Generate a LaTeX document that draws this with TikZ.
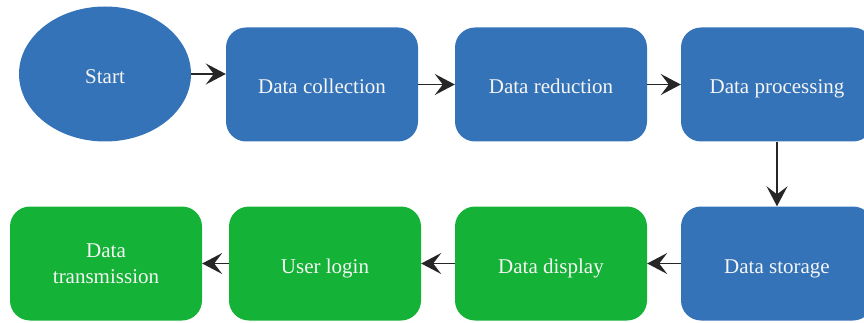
\documentclass[tikz,border=0pt]{standalone}
\usepackage{fontspec}
\setmainfont{Liberation Serif}
\usetikzlibrary{arrows.meta, shapes.geometric}
\definecolor{stepblue}{RGB}{53,115,184}
\definecolor{stepgreen}{RGB}{20,178,54}
\begin{document}
\begin{tikzpicture}[x=1pt, y=-1pt,
					every node/.style={font=\fontsize{21}{26}\selectfont, text=white!96!black, text height=19pt, text depth=0pt},
					box/.style={rounded corners=20pt, minimum width=192pt, minimum height=114pt, inner sep=0pt, align=center},
					bluebox/.style={box, fill=stepblue},
					greenbox/.style={box, fill=stepgreen},
					flow/.style={draw=black!85, line width=1.4pt, -{Stealth[length=20pt, width=21pt, inset=8pt]}}]
					\useasboundingbox (0,0) rectangle (864,323);
					% first row
					\node[ellipse, fill=stepblue, minimum width=172pt, minimum height=135pt, inner sep=0pt] (start) at (105,74) {Start};
					\node[bluebox] (collection) at (322,84.5) {Data collection};
					\node[bluebox] (reduction) at (551,84.5) {Data reduction};
					\node[bluebox] (processing) at (777,84.5) {Data processing};
					% second row
					\node[bluebox] (storage) at (777,263.5) {Data storage};
					\node[greenbox] (display) at (551,263.5) {Data display};
					\node[greenbox] (login) at (325,263.5) {User login};
					\node[greenbox, text height={}, text depth={}] (transmission) at (106,263.5) {Data\\transmission};
					\draw[flow] (start.east) -- (collection.west |- start.east);
					\draw[flow] (collection) -- (reduction);
					\draw[flow] (reduction) -- (processing);
					\draw[flow] (processing) -- (storage);
					\draw[flow] (storage) -- (display);
					\draw[flow] (display) -- (login);
					\draw[flow] (login) -- (transmission);
				\end{tikzpicture}
\end{document}
